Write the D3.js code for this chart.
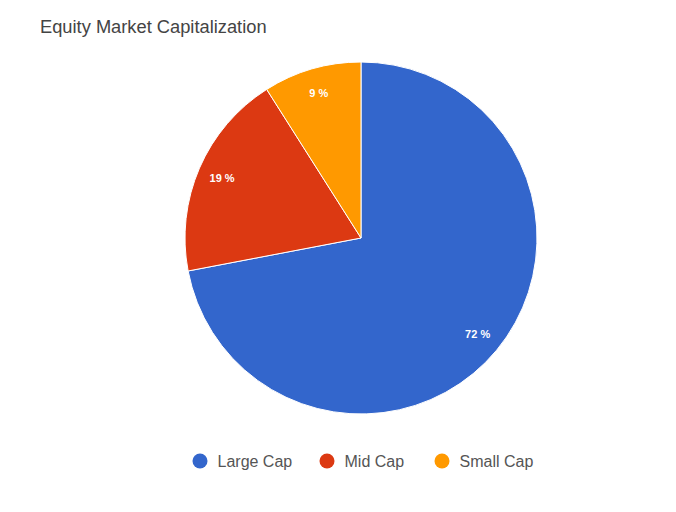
<!DOCTYPE html>
<html>
<head>
<meta charset="utf-8">
<script src="https://cdn.jsdelivr.net/npm/d3@7"></script>
<style>
  body { margin: 0; background: #fff; }
  text { font-family: Arial, "Liberation Sans", sans-serif; }
</style>
</head>
<body>
<svg id="chart"></svg>
<script>
const categories = ["Large Cap", "Mid Cap", "Small Cap"];
const shares = [72, 19, 9];
const colors = ["#3366cc", "#dc3912", "#ff9900"];

const width = 676, height = 512;
const cx = 361, cy = 238, radius = 176;

const svg = d3.select("#chart").attr("width", width).attr("height", height);

svg.append("text")
    .attr("x", 40)
    .attr("y", 33)
    .attr("font-size", 18.3)
    .attr("fill", "#444")
    .text("Equity Market Capitalization");

const data = categories.map((name, i) => ({ name, value: shares[i] }));
const color = d3.scaleOrdinal().domain(categories).range(colors);

const pie = d3.pie().value(d => d.value).sort(null);
const arc = d3.arc().innerRadius(0).outerRadius(radius);
const labelArc = d3.arc().innerRadius(radius * 0.86).outerRadius(radius * 0.86);

const g = svg.append("g").attr("transform", `translate(${cx},${cy})`);
const slices = pie(data);

g.selectAll("path")
    .data(slices)
    .join("path")
    .attr("d", arc)
    .attr("fill", d => color(d.data.name))
    .attr("stroke", "#fff")
    .attr("stroke-width", 1);

g.selectAll("text.pct")
    .data(slices)
    .join("text")
    .attr("class", "pct")
    .attr("transform", d => `translate(${labelArc.centroid(d)})`)
    .attr("text-anchor", "middle")
    .attr("dy", "0.35em")
    .attr("font-size", 11)
    .attr("font-weight", "bold")
    .attr("fill", "#fff")
    .text(d => `${d.data.value} %`);

// legend
const legendX = [200, 327, 442];
const legend = svg.append("g").attr("transform", "translate(0,461)");
const items = legend.selectAll("g")
    .data(categories)
    .join("g")
    .attr("transform", (d, i) => `translate(${legendX[i]},0)`);
items.append("circle").attr("r", 7.5).attr("fill", d => color(d));
items.append("text")
    .attr("x", 17.5)
    .attr("dy", "0.35em")
    .attr("font-size", 16)
    .attr("fill", "#555")
    .text(d => d);
</script>
</body>
</html>
